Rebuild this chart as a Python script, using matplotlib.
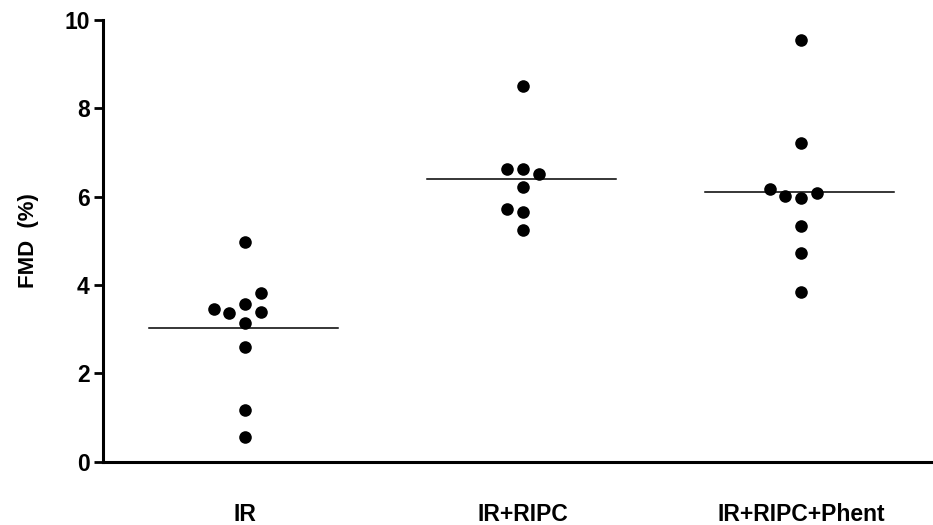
import numpy as np
import matplotlib
matplotlib.use("Agg")
import matplotlib.pyplot as plt

plt.rcParams['font.family'] = ['Liberation Sans', 'DejaVu Sans']

groups = ["IR", "IR+RIPC", "IR+RIPC+Phent"]

# FMD values, with the column slot each dot sits in
ir_vals = [4.98, 3.83, 3.45, 3.36, 3.57, 3.40, 3.15, 2.60, 1.17, 0.57]
ir_slots = [0, 1, -2, -1, 0, 1, 0, 0, 0, 0]
ripc_vals = [8.51, 6.63, 6.63, 6.51, 6.21, 5.72, 5.65, 5.25]
ripc_slots = [0, -1, 0, 1, 0, -1, 0, 0]
phent_vals = [9.55, 7.21, 6.17, 6.02, 5.98, 6.08, 5.34, 4.73, 3.85]
phent_slots = [0, 0, -2, -1, 0, 1, 0, 0, 0]

# mean line of each group
means = [3.03, 6.40, 6.10]

all_vals = [ir_vals, ripc_vals, phent_vals]
all_slots = [ir_slots, ripc_slots, phent_slots]

fig = plt.figure(figsize=(9.33, 5.25), dpi=100)
ax = fig.add_axes([103 / 933, 63.3 / 525, 1 - 103 / 933, (461.7 - 20) / 525])

step = 0.056
for i, (vals, slots) in enumerate(zip(all_vals, all_slots)):
    x = i + 1 + np.array(slots) * step
    ax.scatter(x, vals, s=82, color='black', zorder=3, linewidths=0)
    ax.plot([i + 1 - 0.345, i + 1 + 0.335], [means[i], means[i]],
            color='black', lw=1.1, zorder=2)

ax.set_xlim(0.489, 3.475)
ax.set_ylim(0, 10)
ax.set_yticks([0, 2, 4, 6, 8, 10])
ax.set_xticks([1, 2, 3])
ax.set_xticklabels(groups, fontsize=16.5, fontweight='bold')
ax.tick_params(axis='x', length=0, pad=30)
ax.tick_params(axis='y', length=6.5, width=2, labelsize=16.5, pad=3)
for lbl in ax.get_yticklabels():
    lbl.set_fontweight('bold')

for side in ['top', 'right']:
    ax.spines[side].set_visible(False)
for side in ['left', 'bottom']:
    ax.spines[side].set_linewidth(2.2)

ax.set_ylabel("FMD  (%)", fontsize=16, fontweight='bold', labelpad=18)

fig.savefig("out.png", dpi=100)
